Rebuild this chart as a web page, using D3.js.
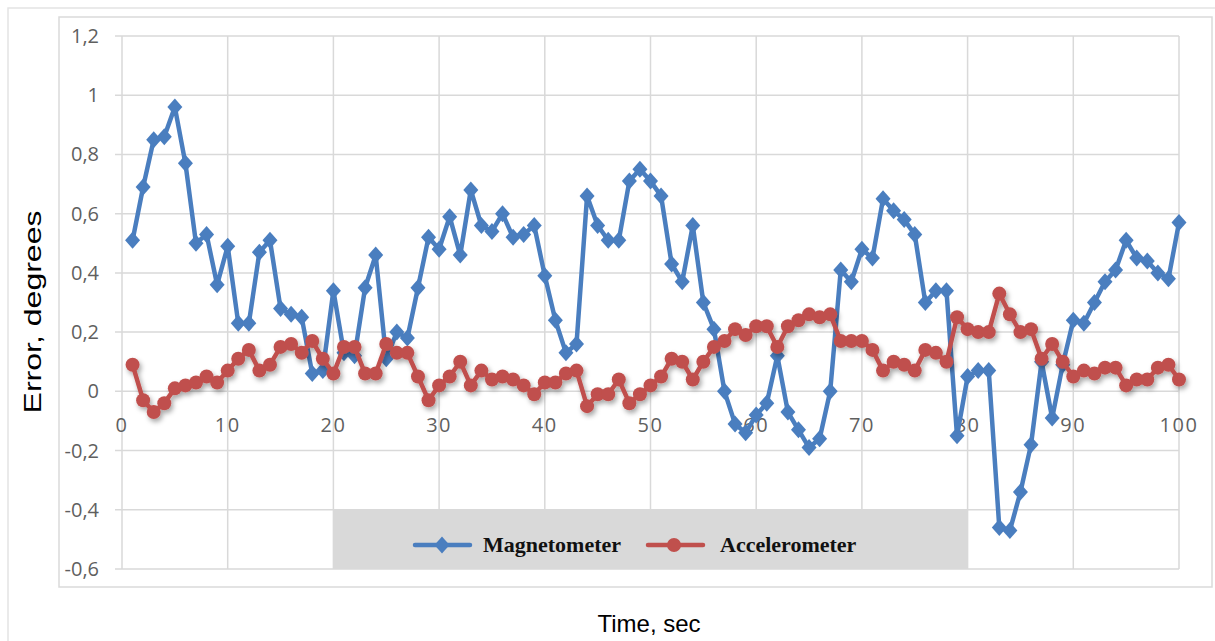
<!DOCTYPE html>
<html>
<head>
<meta charset="utf-8">
<script src="https://cdn.jsdelivr.net/npm/d3@7"></script>
<style>
body { margin: 0; background: #fff; }
.grid { stroke: #d9d9d9; stroke-width: 1.5; }
.tick-label { font-family: "Open Sans", sans-serif; font-size: 20px; fill: #5f5f5f; }
.axis-title { font-family: "Liberation Sans", Arial, sans-serif; font-size: 24px; fill: #000; }
.legend-text { font-family: "Liberation Serif", "Times New Roman", serif; font-size: 22px; font-weight: bold; fill: #111; }
</style>
</head>
<body>
<div class="graph-erreur"></div>
<script>
// temps en secondes
var temps = d3.range(1, 101);

var magnetometer = [
0.51, 0.69, 0.85, 0.86, 0.96, 0.77, 0.50, 0.53, 0.36, 0.49,
0.23, 0.23, 0.47, 0.51, 0.28, 0.26, 0.25, 0.06, 0.07, 0.34,
0.13, 0.12, 0.35, 0.46, 0.11, 0.20, 0.18, 0.35, 0.52, 0.48,
0.59, 0.46, 0.68, 0.56, 0.54, 0.60, 0.52, 0.53, 0.56, 0.39,
0.24, 0.13, 0.16, 0.66, 0.56, 0.51, 0.51, 0.71, 0.75, 0.71,
0.66, 0.43, 0.37, 0.56, 0.30, 0.21, 0.00, -0.11, -0.14, -0.08,
-0.04, 0.12, -0.07, -0.13, -0.19, -0.16, 0.00, 0.41, 0.37, 0.48,
0.45, 0.65, 0.61, 0.58, 0.53, 0.30, 0.34, 0.34, -0.15, 0.05,
0.07, 0.07, -0.46, -0.47, -0.34, -0.18, 0.10, -0.09, 0.09, 0.24,
0.23, 0.30, 0.37, 0.41, 0.51, 0.45, 0.44, 0.40, 0.38, 0.57];

var accelerometer = [
0.09, -0.03, -0.07, -0.04, 0.01, 0.02, 0.03, 0.05, 0.03, 0.07,
0.11, 0.14, 0.07, 0.09, 0.15, 0.16, 0.13, 0.17, 0.11, 0.06,
0.15, 0.15, 0.06, 0.06, 0.16, 0.13, 0.13, 0.05, -0.03, 0.02,
0.05, 0.10, 0.02, 0.07, 0.04, 0.05, 0.04, 0.02, -0.01, 0.03,
0.03, 0.06, 0.07, -0.05, -0.01, -0.01, 0.04, -0.04, -0.01, 0.02,
0.05, 0.11, 0.10, 0.04, 0.10, 0.15, 0.17, 0.21, 0.19, 0.22,
0.22, 0.15, 0.22, 0.24, 0.26, 0.25, 0.26, 0.17, 0.17, 0.17,
0.14, 0.07, 0.10, 0.09, 0.07, 0.14, 0.13, 0.10, 0.25, 0.21,
0.20, 0.20, 0.33, 0.26, 0.20, 0.21, 0.11, 0.16, 0.10, 0.05,
0.07, 0.06, 0.08, 0.08, 0.02, 0.04, 0.04, 0.08, 0.09, 0.04];

var xTicks = [0, 10, 20, 30, 40, 50, 60, 70, 80, 90, 100];
var yTicks = [-0.6, -0.4, -0.2, 0, 0.2, 0.4, 0.6, 0.8, 1, 1.2];
var seriesNames = ["Magnetometer", "Accelerometer"];

var width = 1215, height = 641;
var blue = "#4a7ebf", red = "#c0504d";

var svg = d3.select(".graph-erreur").append("svg")
	.attr("width", width)
	.attr("height", height);

var x = d3.scaleLinear().domain([0, 100]).range([122, 1179]);
var y = d3.scaleLinear().domain([-0.6, 1.2]).range([569, 36]);

// ombre sous la courbe rouge
var defs = svg.append("defs");
var filter = defs.append("filter").attr("id", "ombre")
	.attr("x", "-10%").attr("y", "-10%").attr("width", "120%").attr("height", "130%");
filter.append("feDropShadow")
	.attr("dx", 2).attr("dy", 3).attr("stdDeviation", 2.5)
	.attr("flood-color", "#000").attr("flood-opacity", 0.35);

// cadres
svg.append("rect").attr("width", width).attr("height", height).attr("fill", "#fff");
svg.append("path").attr("d", "M8,641V8H1215").attr("fill", "none").attr("stroke", "#e4e4e4").attr("stroke-width", 1.5);
svg.append("rect").attr("x", 59).attr("y", 17).attr("width", 1153).attr("height", 570)
	.attr("fill", "none").attr("stroke", "#dadada").attr("stroke-width", 1.5);

// grille
svg.selectAll(".hgrid").data(yTicks).enter().append("line")
	.attr("class", "grid")
	.attr("x1", x(0) - 7).attr("x2", x(100))
	.attr("y1", function(d){ return y(d); }).attr("y2", function(d){ return y(d); });

svg.selectAll(".vgrid").data(xTicks).enter().append("line")
	.attr("class", "grid")
	.attr("x1", function(d){ return x(d); }).attr("x2", function(d){ return x(d); })
	.attr("y1", y(1.2)).attr("y2", y(-0.6));

// etiquettes des axes
svg.selectAll(".ylab").data(yTicks).enter().append("text")
	.attr("class", "tick-label")
	.attr("x", 99)
	.attr("y", function(d){ return y(d) + 7; })
	.attr("text-anchor", "end")
	.text(function(d){ return String(d).replace(".", ","); });

svg.selectAll(".xlab").data(xTicks).enter().append("text")
	.attr("class", "tick-label")
	.attr("x", function(d){ return x(d); })
	.attr("y", y(0) + 41)
	.attr("text-anchor", "middle")
	.attr("letter-spacing", 1.5)
	.text(function(d){ return d; });

svg.append("text")
	.attr("class", "axis-title")
	.attr("transform", "translate(41,312) rotate(-90)")
	.attr("text-anchor", "middle")
	.attr("textLength", 203)
	.attr("lengthAdjust", "spacingAndGlyphs")
	.text("Error, degrees");

svg.append("text")
	.attr("class", "axis-title")
	.attr("x", 649).attr("y", 632)
	.attr("text-anchor", "middle")
	.text("Time, sec");

var line = d3.line()
	.x(function(d, i){ return x(temps[i]); })
	.y(function(d){ return y(d); });

var diamond = "M0,-8.5L7.5,0L0,8.5L-7.5,0Z";

// Magnetometer
var gMag = svg.append("g");
gMag.append("path")
	.datum(magnetometer)
	.attr("fill", "none")
	.attr("stroke", blue)
	.attr("stroke-width", 4.5)
	.attr("stroke-linejoin", "round")
	.attr("d", line);
gMag.selectAll("path.pt").data(magnetometer).enter().append("path")
	.attr("class", "pt")
	.attr("d", diamond)
	.attr("fill", blue)
	.attr("transform", function(d, i){ return "translate(" + x(temps[i]) + "," + y(d) + ")"; });

// Accelerometer
var gAcc = svg.append("g").attr("filter", "url(#ombre)");
gAcc.append("path")
	.datum(accelerometer)
	.attr("fill", "none")
	.attr("stroke", red)
	.attr("stroke-width", 4.5)
	.attr("stroke-linejoin", "round")
	.attr("d", line);
gAcc.selectAll("circle").data(accelerometer).enter().append("circle")
	.attr("r", 7)
	.attr("fill", red)
	.attr("cx", function(d, i){ return x(temps[i]); })
	.attr("cy", function(d){ return y(d); });

// legende
var legend = svg.append("g");
legend.append("rect")
	.attr("x", x(20)).attr("y", y(-0.4))
	.attr("width", x(80) - x(20)).attr("height", y(-0.6) - y(-0.4))
	.attr("fill", "#d9d9d9");

var legendItems = [
	{ name: seriesNames[0], color: blue, x0: 415, shape: "diamond" },
	{ name: seriesNames[1], color: red, x0: 648, shape: "circle" }
];
var items = legend.selectAll(".item").data(legendItems).enter().append("g")
	.attr("transform", function(d){ return "translate(" + d.x0 + ",545)"; });
items.append("line")
	.attr("x1", 0).attr("x2", 55)
	.attr("stroke", function(d){ return d.color; })
	.attr("stroke-width", 4.5)
	.attr("stroke-linecap", "round");
items.each(function(d){
	var g = d3.select(this);
	if(d.shape == "diamond") g.append("path").attr("d", diamond).attr("transform", "translate(27,0)").attr("fill", d.color);
	else g.append("circle").attr("cx", 26).attr("r", 7).attr("fill", d.color);
});
items.append("text")
	.attr("class", "legend-text")
	.attr("x", function(d, i){ return i == 0 ? 68 : 72; })
	.attr("y", 7)
	.text(function(d){ return d.name; });
</script>
</body>
</html>
